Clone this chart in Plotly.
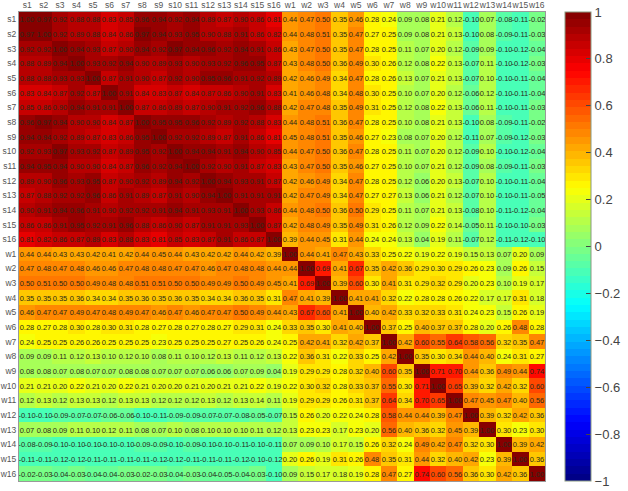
import plotly.graph_objects as go

s_labels = [f"s{i}" for i in range(1, 17)]
w_labels = [f"w{i}" for i in range(1, 17)]
labels = s_labels + w_labels

ss_rows = [
    [1.00,.97,.92,.88,.88,.83,.85,.96,.94,.92,.94,.89,.87,.90,.86,.81],
    [.97,1.00,.92,.89,.88,.84,.86,.97,.94,.93,.95,.90,.88,.91,.86,.82],
    [.92,.92,1.00,.94,.93,.87,.90,.94,.92,.97,.94,.96,.92,.94,.91,.86],
    [.88,.89,.94,1.00,.93,.92,.94,.90,.89,.93,.90,.93,.92,.96,.95,.87],
    [.88,.88,.93,.93,1.00,.87,.91,.90,.87,.92,.90,.95,.96,.91,.92,.89],
    [.83,.84,.87,.92,.87,1.00,.91,.84,.83,.87,.84,.87,.86,.90,.91,.83],
    [.85,.86,.90,.94,.91,.91,1.00,.87,.86,.89,.87,.90,.91,.92,.96,.88],
    [.96,.97,.94,.90,.90,.84,.87,1.00,.95,.95,.96,.92,.89,.92,.88,.83],
    [.94,.94,.92,.89,.87,.83,.86,.95,1.00,.92,.92,.89,.87,.91,.86,.81],
    [.92,.93,.97,.93,.92,.87,.89,.95,.92,1.00,.94,.94,.91,.94,.90,.85],
    [.94,.95,.94,.90,.90,.84,.87,.96,.92,.94,1.00,.92,.90,.91,.87,.83],
    [.89,.90,.96,.93,.95,.87,.90,.92,.89,.94,.92,1.00,.94,.93,.91,.87],
    [.87,.88,.92,.92,.96,.86,.91,.89,.87,.91,.90,.94,1.00,.91,.91,.91],
    [.90,.91,.94,.96,.91,.90,.92,.92,.91,.94,.91,.93,.91,1.00,.93,.86],
    [.86,.86,.91,.95,.92,.91,.96,.88,.86,.90,.87,.91,.91,.93,1.00,.87],
    [.81,.82,.86,.87,.89,.83,.88,.83,.81,.85,.83,.87,.91,.86,.87,1.00],
]
sw_rows = [
    [.44,.47,.50,.35,.46,.28,.24,.09,.08,.21,.12,-.10,.07,-.08,-.11,-.02],
    [.44,.48,.51,.35,.47,.27,.25,.09,.08,.21,.13,-.10,.08,-.09,-.11,-.03],
    [.43,.47,.50,.35,.47,.28,.25,.11,.07,.20,.12,-.09,.09,-.10,-.12,-.04],
    [.43,.48,.50,.36,.49,.30,.26,.12,.08,.22,.13,-.07,.11,-.10,-.12,-.03],
    [.42,.46,.49,.34,.47,.28,.26,.13,.07,.21,.13,-.07,.10,-.10,-.11,-.04],
    [.41,.46,.48,.34,.48,.30,.25,.10,.07,.20,.12,-.06,.12,-.10,-.11,-.04],
    [.42,.47,.48,.35,.49,.31,.25,.12,.08,.22,.13,-.06,.11,-.10,-.11,-.03],
    [.44,.48,.51,.36,.47,.28,.25,.10,.08,.21,.13,-.10,.08,-.09,-.11,-.02],
    [.45,.48,.51,.35,.46,.27,.23,.08,.07,.20,.12,-.11,.07,-.09,-.12,-.03],
    [.44,.47,.50,.36,.47,.28,.25,.11,.07,.20,.12,-.09,.10,-.10,-.12,-.04],
    [.43,.47,.50,.35,.46,.27,.25,.10,.07,.21,.12,-.09,.08,-.09,-.11,-.03],
    [.42,.46,.49,.34,.47,.28,.25,.12,.06,.20,.13,-.07,.10,-.10,-.11,-.04],
    [.42,.47,.49,.34,.47,.27,.27,.13,.06,.21,.12,-.07,.10,-.10,-.11,-.05],
    [.44,.48,.50,.36,.50,.29,.25,.11,.07,.21,.13,-.08,.10,-.11,-.12,-.04],
    [.42,.48,.49,.35,.49,.31,.26,.12,.09,.22,.14,-.05,.11,-.10,-.10,-.03],
    [.39,.44,.45,.31,.44,.24,.24,.13,.04,.19,.11,-.07,.12,-.11,-.12,-.10],
]
ww_rows = [
    [1.00,.44,.41,.47,.43,.33,.25,.22,.19,.22,.19,.15,.13,.07,.20,.09],
    [.44,1.00,.69,.41,.67,.35,.42,.36,.29,.30,.29,.26,.23,.09,.26,.15],
    [.41,.69,1.00,.39,.60,.30,.41,.31,.29,.32,.29,.20,.23,.10,.19,.17],
    [.47,.41,.39,1.00,.41,.41,.32,.22,.28,.28,.26,.22,.17,.17,.31,.18],
    [.43,.67,.60,.41,1.00,.40,.42,.33,.32,.33,.31,.24,.23,.15,.26,.19],
    [.33,.35,.30,.41,.40,1.00,.37,.25,.40,.37,.37,.28,.20,.26,.48,.28],
    [.25,.42,.41,.32,.42,.37,1.00,.42,.60,.55,.64,.58,.56,.32,.35,.47],
    [.22,.36,.31,.22,.33,.25,.42,1.00,.35,.30,.34,.44,.40,.24,.31,.27],
    [.19,.29,.29,.28,.32,.40,.60,.35,1.00,.71,.70,.44,.36,.49,.44,.74],
    [.22,.30,.32,.28,.33,.37,.55,.30,.71,1.00,.65,.39,.32,.42,.32,.60],
    [.19,.29,.29,.26,.31,.37,.64,.34,.70,.65,1.00,.47,.45,.47,.40,.56],
    [.15,.26,.20,.22,.24,.28,.58,.44,.44,.39,.47,1.00,.39,.32,.42,.36],
    [.13,.23,.23,.17,.23,.20,.56,.40,.36,.32,.45,.39,1.00,.30,.23,.30],
    [.07,.09,.10,.17,.15,.26,.32,.24,.49,.42,.47,.32,.30,1.00,.39,.42],
    [.20,.26,.19,.31,.26,.48,.35,.31,.44,.32,.40,.42,.23,.39,1.00,.36],
    [.09,.15,.17,.18,.19,.28,.47,.27,.74,.60,.56,.36,.30,.42,.36,1.00],
]
cb_ticks = [1, 0.8, 0.6, 0.4, 0.2, 0, -0.2, -0.4, -0.6, -0.8, -1]
cb_labels = ["1", "0.8", "0.6", "0.4", "0.2", "0", "\u22120.2", "\u22120.4", "\u22120.6", "\u22120.8", "\u22121"]

# full symmetric matrix from the three blocks
top = [a + b for a, b in zip(ss_rows, sw_rows)]
ws_rows = [list(col) for col in zip(*sw_rows)]
bottom = [a + b for a, b in zip(ws_rows, ww_rows)]
z = top + bottom
cell_text = [[f"{v:.2f}" for v in row] for row in z]


def jet(t):
    def ch(x):
        return max(0.0, min(1.0, 1.5 - abs(4 * t - x)))
    return f"rgb({round(255*ch(3))},{round(255*ch(2))},{round(255*ch(1))})"


n = 64
colorscale = []
for i in range(n):
    c = jet((i + 0.5) / n)
    colorscale.append([i / n, c])
    colorscale.append([(i + 1) / n, c])

L, R, T, B = 19, 545, 12, 481
W, H = 628, 491
fig = go.Figure(go.Heatmap(
    z=z, x=labels, y=labels, zmin=-1, zmax=1,
    colorscale=colorscale,
    text=cell_text,
    texttemplate="%{text}",
    textfont=dict(family="Liberation Sans", size=7.5, color="#2a2a1a"),
    colorbar=dict(
        x=(565 - L) / (R - L), xanchor="left", xpad=0,
        y=1, yanchor="top", yref="paper", ypad=0, len=1,
        thickness=26, outlinecolor="#8a9a80", outlinewidth=1,
        tickmode="array", tickvals=cb_ticks, ticktext=cb_labels,
        ticks="inside", ticklen=5, tickcolor="#444",
        tickfont=dict(family="Liberation Sans", size=13, color="#444"),
    ),
))
axis_common = dict(
    showgrid=False, zeroline=False, ticks="", showline=True, mirror=True,
    linecolor="#999999", linewidth=1,
    tickfont=dict(family="Liberation Sans", size=8.5, color="#555"),
    tickangle=0, dtick=1, type="category",
)
fig.update_xaxes(side="top", **axis_common)
fig.update_yaxes(autorange="reversed", **axis_common)
fig.update_layout(
    width=W, height=H, autosize=False,
    margin=dict(l=L, r=W - R, t=T, b=H - B, pad=0, autoexpand=False),
    paper_bgcolor="white", plot_bgcolor="white",
)
fig.write_html("out.html", config={"displayModeBar": False}, post_script="document.body.style.margin='0';")
